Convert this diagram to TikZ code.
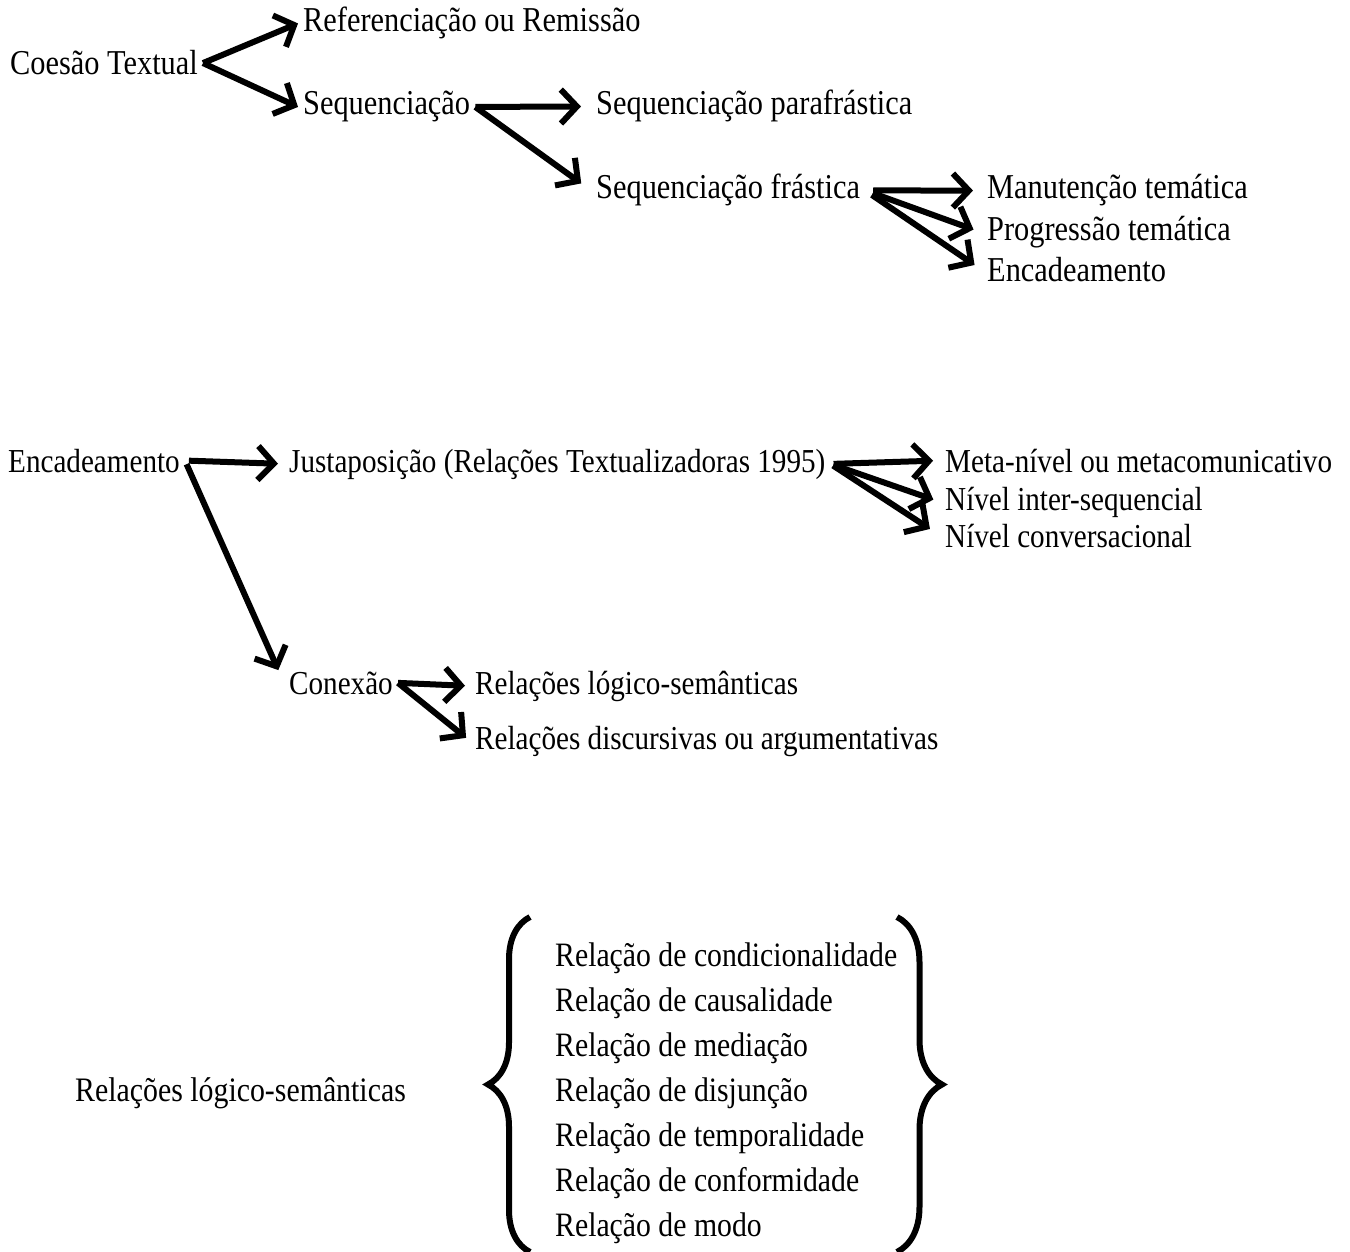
\documentclass[tikz,border=0pt]{standalone}
\usepackage{fontspec}
\setmainfont{Liberation Serif}[FakeStretch=0.87]
\usetikzlibrary{arrows.meta,positioning,decorations.pathreplacing}

\begin{document}
\begin{tikzpicture}[
    x=1pt, y=-1pt,
    term/.style={anchor=base west, inner sep=5pt, font=\fontsize{34.9}{40}\selectfont},
    midterm/.style={term, font=\fontsize{33.5}{40}\selectfont},
    item/.style={anchor=base west, inner sep=0pt, font=\fontsize{34.2}{42}\selectfont},
    arrow/.style={-{Straight Barb[length=16pt,width=34pt,sharp]}, line width=6pt},
    curly/.style={decorate, decoration={brace, amplitude=42pt}, line width=6pt}
]
    \useasboundingbox (0,0) rectangle (1350,1252);

    % coesao
    \node[term] (coesao) at (5,75) {Coesão Textual};
    \node[term] (refer) at (298,32) {Referenciação ou Remissão};
    \node[term] (seq) at (298,115) {Sequenciação};
    \node[term] (seqpar) at (591,115) {Sequenciação parafrástica};
    \node[term] (seqfra) at (591,199) {Sequenciação frástica};
    \node[term] (manut) at (982,199) {Manutenção temática};
    \node[term] (progr) at (982,241) {Progressão temática};
    \node[term] (encad) at (982,282) {Encadeamento};

    \draw[arrow] (coesao.east) -- (refer.west);
    \draw[arrow] (coesao.east) -- (seq.west);
    \draw[arrow, shorten >=10pt] (seq.east) -- (seqpar.west);
    \draw[arrow, shorten >=12pt] (seq.east) -- (seqfra.west);
    \draw[arrow, shorten <=8pt, shorten >=9pt] (seqfra.east) -- (manut.west);
    \draw[arrow, shorten <=8pt, shorten >=9pt] (seqfra.east) -- (progr.west);
    \draw[arrow, shorten <=8pt, shorten >=9pt] (seqfra.east) -- (encad.west);

    % encadeamento
    \node[midterm] (encadb) at (3,472) {Encadeamento};
    \node[midterm] (justa) at (284,472) {Justaposição (Relações Textualizadoras 1995)};
    \node[midterm] (meta) at (940,472) {Meta-nível ou metacomunicativo};
    \node[midterm] (inter) at (940,510) {Nível inter-sequencial};
    \node[midterm] (conver) at (940,547) {Nível conversacional};
    \node[midterm] (conexao) at (284,694) {Conexão};
    \node[midterm] (logsem) at (470,694) {Relações lógico-semânticas};
    \node[midterm] (discur) at (470,749) {Relações discursivas ou argumentativas};

    \draw[arrow, shorten <=4pt, shorten >=6pt] (encadb.east) -- (justa.west);
    \draw[arrow, shorten <=4pt, shorten >=14pt] (encadb.east) -- (conexao.west);
    \draw[arrow, shorten <=3pt, shorten >=7pt] (justa.east) -- (meta.west);
    \draw[arrow, shorten <=3pt, shorten >=7pt] (justa.east) -- (inter.west);
    \draw[arrow, shorten <=3pt, shorten >=12pt] (justa.east) -- (conver.west);
    \draw[arrow, shorten >=5pt] (conexao.east) -- (logsem.west);
    \draw[arrow, shorten >=5pt] (conexao.east) -- (discur.west);

    % relacoes logico-semanticas
    \node[term, font=\fontsize{34.3}{40}\selectfont] (relsem) at (70,1101) {Relações lógico-semânticas};
    \node[item] (r1) at (555,966) {Relação de condicionalidade};
    \node[item, below=45pt of r1.base west, anchor=base west] (r2) {Relação de causalidade};
    \node[item, below=45pt of r2.base west, anchor=base west] (r3) {Relação de mediação};
    \node[item, below=45pt of r3.base west, anchor=base west] (r4) {Relação de disjunção};
    \node[item, below=45pt of r4.base west, anchor=base west] (r5) {Relação de temporalidade};
    \node[item, below=45pt of r5.base west, anchor=base west] (r6) {Relação de conformidade};
    \node[item, below=45pt of r6.base west, anchor=base west] (r7) {Relação de modo};

    \draw[curly] (530,1252) -- (530,917);
    \draw[curly, decoration={amplitude=45pt}] (897,917) -- (897,1252);
\end{tikzpicture}
\end{document}
